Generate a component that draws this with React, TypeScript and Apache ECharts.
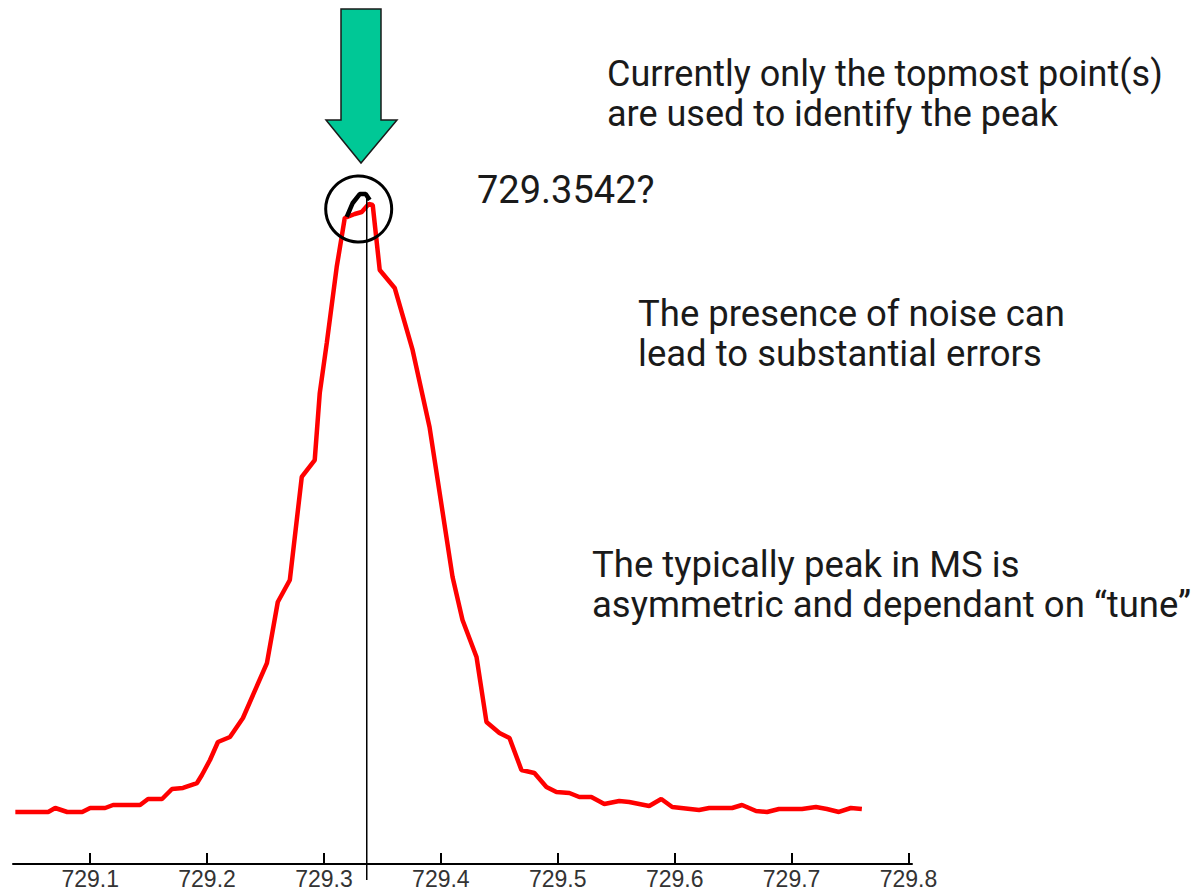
import React, { useEffect, useRef } from "react";
import * as echarts from "echarts";

// m/z values of the profile points
const mzValues: number[] = [
  729.036, 729.0641, 729.0701, 729.0804, 729.0932, 729.1, 729.1128, 729.1196, 729.1427, 729.1495,
  729.1615, 729.17, 729.1794, 729.1914, 729.1956, 729.2025, 729.2093, 729.2196, 729.2307, 729.2512,
  729.2605, 729.2708, 729.281, 729.2921, 729.2964, 729.3024, 729.3109, 729.3178, 729.3263, 729.3323,
  729.3383, 729.3417, 729.3477, 729.3605, 729.3758, 729.3903, 729.41, 729.4185, 729.4305, 729.439,
  729.4501, 729.4587, 729.4689, 729.48, 729.4903, 729.4988, 729.5099, 729.5184, 729.5287, 729.5398,
  729.5526, 729.5611, 729.5782, 729.5885, 729.5979, 729.6209, 729.6295, 729.6491, 729.6576, 729.6696,
  729.679, 729.6892, 729.7089, 729.7208, 729.7302, 729.7405, 729.7507, 729.7601,
];
// relative intensity of the profile points
const intensities: number[] = [
  7.43, 7.43, 8.0, 7.43, 7.43, 8.0, 8.0, 8.43, 8.43, 9.29,
  9.29, 10.71, 10.86, 11.57, 12.71, 14.86, 17.43, 18.14, 20.86, 28.71,
  37.43, 40.57, 55.29, 57.71, 67.29, 74.43, 85.29, 92.29, 92.86, 93.14,
  94.29, 94.14, 84.86, 82.29, 73.43, 62.43, 41.0, 34.86, 29.57, 20.29,
  18.71, 18.0, 13.43, 13.0, 11.0, 10.29, 10.14, 9.57, 9.57, 8.57,
  9.0, 8.86, 8.29, 9.29, 8.14, 7.71, 8.0, 8.0, 8.43, 7.57,
  7.43, 7.86, 7.86, 8.14, 7.86, 7.43, 8.0, 7.86,
];
// topmost points used to identify the peak
const topMz: number[] = [729.3195, 729.3246, 729.3306, 729.3357, 729.3391];
const topIntensity: number[] = [92.43, 94.43, 95.71, 95.71, 94.86];

const tickValues: number[] = [729.1, 729.2, 729.3, 729.4, 729.5, 729.6, 729.7, 729.8];
const peakMz = 729.3366;
const circleCenter: [number, number] = [729.3297, 93.57];

const annotations: string[] = [
  "Currently only the topmost point(s)",
  "are used to identify the peak",
  "729.3542?",
  "The presence of noise can",
  "lead to substantial errors",
  "The typically peak in MS is",
  "asymmetric and dependant on \u201Ctune\u201D",
];

export default function App() {
  const ref = useRef<HTMLDivElement>(null);
  useEffect(() => {
    if (!ref.current) return;
    const chart = echarts.init(ref.current, undefined, { renderer: "svg" });
    const profile = mzValues.map((m, i) => [m, intensities[i]]);
    const top = topMz.map((m, i) => [m, topIntensity[i]]);
    chart.setOption({
      animation: false,
      backgroundColor: "#ffffff",
      grid: { left: 13, right: 289, top: 164, bottom: 27, containLabel: false },
      xAxis: {
        type: "value",
        min: 729.034,
        max: 729.803,
        axisLine: { show: true, lineStyle: { color: "#000", width: 2 } },
        axisTick: {
          show: true,
          inside: true,
          length: 11,
          lineStyle: { color: "#000", width: 2 },
          customValues: tickValues,
        },
        axisLabel: {
          customValues: tickValues,
          formatter: (v: number) => v.toFixed(1),
          color: "#333333",
          fontSize: 23,
          fontFamily: "'Liberation Sans Narrow', 'Liberation Sans', Arial, sans-serif",
          margin: 3,
        },
        splitLine: { show: false },
      },
      yAxis: { type: "value", min: 0, max: 100, show: false, splitLine: { show: false } },
      series: [
        {
          type: "line",
          data: profile,
          showSymbol: false,
          symbol: "none",
          lineStyle: { color: "#ff0000", width: 4.5 },
          z: 2,
        },
        {
          type: "line",
          data: top,
          showSymbol: false,
          symbol: "none",
          lineStyle: { color: "#000000", width: 4.5 },
          z: 3,
        },
      ],
    });

    const lineTop = chart.convertToPixel({ gridIndex: 0 }, [peakMz, 95.71]) as number[];
    const cc = chart.convertToPixel({ gridIndex: 0 }, circleCenter) as number[];
    const textFont = (size: number) => `${size}px Roboto, 'Noto Sans', sans-serif`;
    const txt = (text: string, x: number, y: number, size: number) => ({
      type: "text",
      x,
      y,
      z: 10,
      style: { text, fill: "#1a1a1a", font: textFont(size), textVerticalAlign: "middle" },
    });
    chart.setOption({
      graphic: [
        {
          type: "line",
          z: 5,
          shape: { x1: lineTop[0], y1: lineTop[1] + 2, x2: lineTop[0], y2: 880 },
          style: { stroke: "#000", lineWidth: 1.5 },
        },
        {
          type: "circle",
          z: 5,
          shape: { cx: cc[0], cy: cc[1], r: 33 },
          style: { fill: "none", stroke: "#000", lineWidth: 3 },
        },
        {
          type: "polygon",
          z: 6,
          shape: {
            points: [
              [341, 9], [381, 9], [381, 120], [397, 120], [361, 163], [326, 120], [341, 120],
            ],
          },
          style: { fill: "#00c896", stroke: "#1a1a1a", lineWidth: 1.5 },
        },
        txt(annotations[0], 607, 74, 36),
        txt(annotations[1], 607, 114, 36),
        txt(annotations[2], 477, 190, 38),
        txt(annotations[3], 638, 313, 36.5),
        txt(annotations[4], 638, 353, 36.5),
        txt(annotations[5], 592, 564, 36.5),
        txt(annotations[6], 592, 604, 36.5),
      ],
    });
    return () => chart.dispose();
  }, []);
  return (
    <div
      ref={ref}
      style={{ position: "fixed", left: 0, top: 0, width: 1201, height: 891, background: "#fff" }}
    />
  );
}
